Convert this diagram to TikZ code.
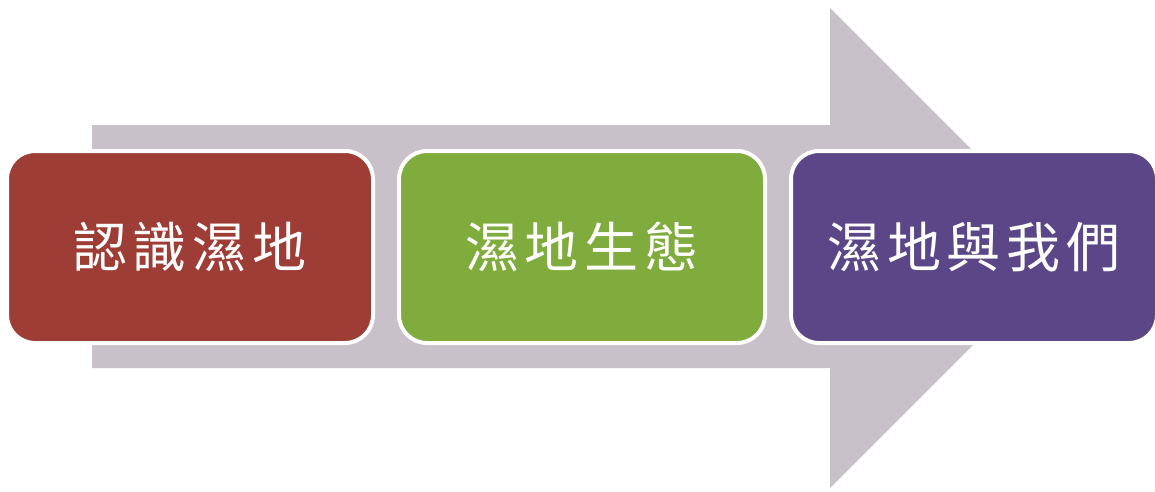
\documentclass[tikz,border=0pt]{standalone}
\usepackage{fontspec}
\usepackage{xcolor}
\usepackage{tikz}
\usetikzlibrary{positioning}
\newfontfamily\cjk{Noto Sans CJK TC}
\definecolor{arrowgrey}{RGB}{201,193,201}
\definecolor{boxred}{RGB}{158,60,54}
\definecolor{boxgreen}{RGB}{127,172,60}
\definecolor{boxpurple}{RGB}{91,71,135}
\tikzstyle{stage} = [rectangle, rounded corners=28pt, minimum width=366pt, minimum height=192pt, text centered, draw=white, line width=4pt, text=white, font=\cjk\fontsize{54}{64}\selectfont\addfontfeature{LetterSpace=11}]

\begin{document}
\begin{tikzpicture}[x=1pt,y=-1pt,node distance=22pt]
	\useasboundingbox (0,0) rectangle (1155,491);
	% big arrow behind
	\fill [arrowgrey] (92,125) -- (830,125) -- (830,8) -- (1070,248) -- (830,488) -- (830,368) -- (92,368) -- cycle;

	\node (know) [stage, fill=boxred] at (190,247) {認識濕地};
	\node (eco) [stage, fill=boxgreen, right = of know] {濕地生態};
	\node (us) [stage, fill=boxpurple, right = of eco] {濕地與我們};
\end{tikzpicture}
\end{document}
